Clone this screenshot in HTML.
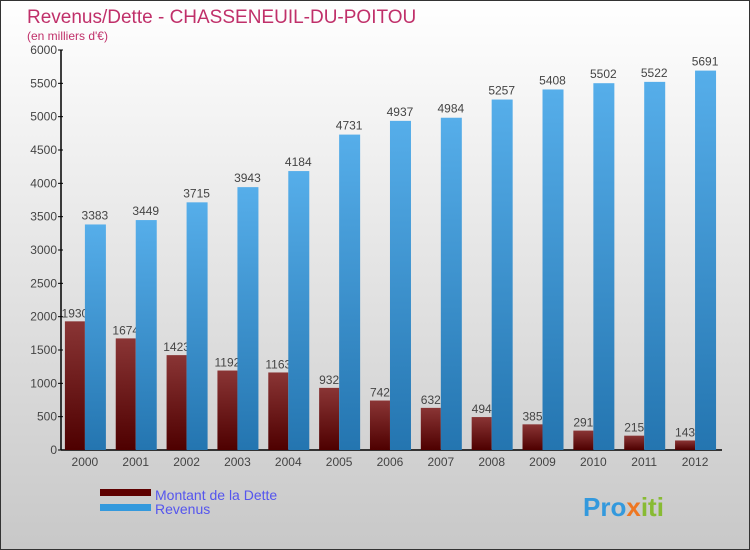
<!DOCTYPE html>
<html><head><meta charset="utf-8"><style>
body{margin:0;}
svg{display:block;font-family:"Liberation Sans",sans-serif;}
</style></head><body>
<svg id="c" width="750" height="550" viewBox="0 0 750 550">
<defs>
<linearGradient id="bg" x1="0" y1="0" x2="0" y2="1"><stop offset="0" stop-color="#ffffff"/><stop offset="1" stop-color="#c8c8c8"/></linearGradient>
<linearGradient id="gd" x1="0" y1="0" x2="0" y2="1"><stop offset="0" stop-color="#8a3535"/><stop offset="1" stop-color="#4e0000"/></linearGradient>
<linearGradient id="gr" x1="0" y1="0" x2="0" y2="1"><stop offset="0" stop-color="#56aeea"/><stop offset="1" stop-color="#2475b0"/></linearGradient>
</defs>
<rect x="0.5" y="0.5" width="749" height="549" fill="url(#bg)" stroke="#333"/>
<text x="27" y="23" font-size="19" fill="#c0306a">Revenus/Dette - CHASSENEUIL-DU-POITOU</text>
<text x="27" y="40" font-size="12" fill="#c0306a">(en milliers d'€)</text>
<g id="yax"></g><g id="bars"></g>
<g>
<rect x="100" y="489" width="51" height="7" fill="#5e0000"/>
<text x="155" y="500" font-size="14" fill="#5555ee">Montant de la Dette</text>
<rect x="100" y="504" width="51" height="7" fill="#3399dd"/>
<text x="155" y="514" font-size="14" fill="#5555ee">Revenus</text>
</g>
<text x="583" y="516" font-size="26" font-weight="bold"><tspan fill="#3399dd">Pro</tspan><tspan fill="#ee7722">x</tspan><tspan fill="#88bb33">iti</tspan></text>
</svg>
<script>
const years=["2000","2001","2002","2003","2004","2005","2006","2007","2008","2009","2010","2011","2012"];
const dette=[1930,1674,1423,1192,1163,932,742,632,494,385,291,215,143];
const revenus=[3383,3449,3715,3943,4184,4731,4937,4984,5257,5408,5502,5522,5691];
const yTicks=[0,500,1000,1500,2000,2500,3000,3500,4000,4500,5000,5500,6000];
const NS="http://www.w3.org/2000/svg";
const x0=61,x1=722,yB=450,yT=50,yMax=6000;
const y=v=>yB-(v/yMax)*(yB-yT);
const bw=(x1-x0)/years.length;
const cx=i=>x0+bw*(i+0.47);
function mk(t,a,p){const e=document.createElementNS(NS,t);for(const k in a)e.setAttribute(k,a[k]);p.appendChild(e);return e;}
const ya=document.getElementById('yax'),bg=document.getElementById('bars');
const ax=mk('line',{x1:x0,y1:yT,x2:x0,y2:yB,stroke:'#000','stroke-width':1.5},ya);


const xa=mk('line',{x1:x0,y1:yB,x2:x1,y2:yB,stroke:'#000','stroke-width':1.5},ya);


yTicks.forEach(v=>{
 const tk=mk('line',{x1:x0-3,y1:y(v),x2:x0+2,y2:y(v),stroke:'#000'},ya);
 
 
 const t=mk('text',{x:x0-4,y:y(v)+4,'font-size':12,'text-anchor':'end',fill:'#444'},ya);
 t.textContent=v;
 
 
});
years.forEach((yr,i)=>{
 const c=cx(i);
 const r=mk('rect',{x:c-20,y:y(dette[i]),width:20,height:yB-y(dette[i]),fill:'url(#gd)'},bg);
 
 
 const t=mk('text',{x:c-10,y:y(dette[i])-4,'font-size':12,'text-anchor':'middle',fill:'#444'},bg);
 t.textContent=dette[i];
 
 
});
years.forEach((yr,i)=>{
 const c=cx(i);
 const r=mk('rect',{x:c,y:y(revenus[i]),width:21,height:yB-y(revenus[i]),fill:'url(#gr)'},bg);
 
 
 const t=mk('text',{x:c+10,y:y(revenus[i])-5,'font-size':12,'text-anchor':'middle',fill:'#444'},bg);
 t.textContent=revenus[i];
 
 
 const xl=mk('text',{x:c,y:466,'font-size':12,'text-anchor':'middle',fill:'#444'},bg);
 xl.textContent=yr;
 
 
});
</script>
</body></html>
